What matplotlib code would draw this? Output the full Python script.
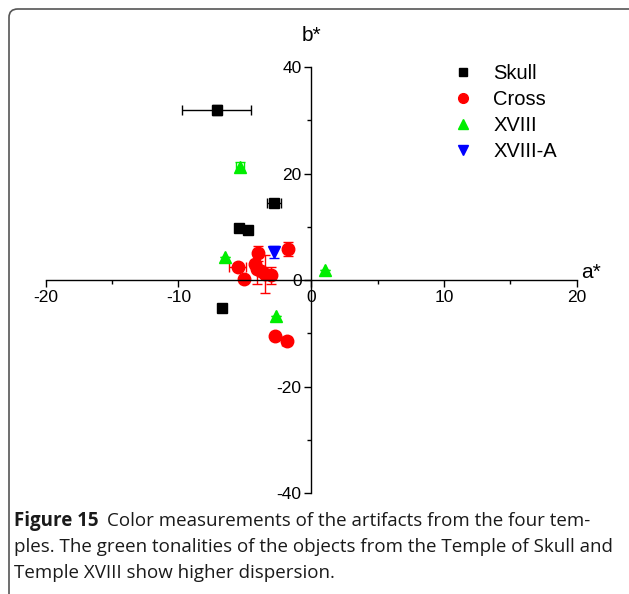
import matplotlib.pyplot as plt
from matplotlib.lines import Line2D
from matplotlib.patches import FancyBboxPatch
from matplotlib.ticker import MultipleLocator

# ============================================================
# DATA (a*, b* with error bars)
# ============================================================

skull_a = [-7.1, -2.8, -5.45, -4.8, -6.7]
skull_b = [31.9, 14.4, 9.7, 9.3, -5.2]
skull_xerr = [2.6, 0.55, 0.0, 0.0, 0.0]
skull_yerr = [0.9, 0.5, 0.0, 0.0, 0.0]

cross_a = [-5.55, -5.05, -4.0, -4.2, -4.1, -3.75, -3.5, -3.05, -1.75, -2.7, -1.85]
cross_b = [2.5, 0.1, 5.0, 3.1, 2.0, 1.6, 1.1, 0.9, 5.9, -10.5, -11.4]
cross_xerr = [0.65, 0.0, 0.3, 0.3, 0.0, 0.0, 0.0, 0.3, 0.0, 0.0, 0.35]
cross_yerr = [0.3, 0.0, 1.4, 0.0, 2.7, 0.0, 3.6, 1.6, 1.3, 0.0, 0.6]

xviii_a = [-5.4, -6.5, 1.0, -2.65]
xviii_b = [21.3, 4.4, 1.9, -6.75]
xviii_xerr = [0.3, 0.0, 0.0, 0.0]
xviii_yerr = [0.8, 0.0, 0.0, 0.0]

xviiia_a = [-2.8]
xviiia_b = [5.2]
xviiia_yerr = [1.1]

caption_bold = 'Figure 15'
caption_lines = [
    'Color measurements of the artifacts from the four tem-',
    'ples. The green tonalities of the objects from the Temple of Skull and',
    'Temple XVIII show higher dispersion.',
]

# ============================================================
# PLOT
# ============================================================

plt.rcParams['font.family'] = 'sans-serif'
plt.rcParams['font.sans-serif'] = ['Liberation Sans']

RED = '#FF0000'
GREEN = '#00EE00'
BLUE = '#0000FF'

fig = plt.figure(figsize=(6.29, 5.94), dpi=100)
ax = fig.add_axes([0.0727, 0.170, 0.8442, 0.7172])

eb = dict(linestyle='none', elinewidth=1.0, capsize=3.5, capthick=1.0)
ax.errorbar(skull_a, skull_b, xerr=skull_xerr, yerr=skull_yerr, marker='s',
            markersize=7, color='black', **eb)
ax.errorbar(cross_a, cross_b, xerr=cross_xerr, yerr=cross_yerr, marker='o',
            markersize=9, color=RED, **eb)
ax.errorbar(xviii_a, xviii_b, xerr=xviii_xerr, yerr=xviii_yerr, marker='^',
            markersize=9, color=GREEN, **eb)
ax.errorbar(xviiia_a, xviiia_b, yerr=xviiia_yerr, marker='v',
            markersize=9, color=BLUE, **eb)

ax.set_xlim(-20, 20)
ax.set_ylim(-40, 40)

for side in ['top', 'right']:
    ax.spines[side].set_visible(False)
ax.spines['left'].set_position(('data', 0))
ax.spines['bottom'].set_position(('data', 0))
ax.spines['left'].set_linewidth(1.0)
ax.spines['bottom'].set_linewidth(1.0)

ax.xaxis.set_major_locator(MultipleLocator(10))
ax.xaxis.set_minor_locator(MultipleLocator(5))
ax.yaxis.set_major_locator(MultipleLocator(20))
ax.yaxis.set_minor_locator(MultipleLocator(10))
ax.tick_params(which='major', direction='out', length=5, width=1,
               labelsize=12.5, pad=2)
ax.tick_params(which='minor', direction='out', length=3, width=1)
ax.xaxis.set_major_formatter(plt.FuncFormatter(lambda v, p: '%d' % v))
ax.yaxis.set_major_formatter(plt.FuncFormatter(lambda v, p: '%d' % v))

ax.text(0, 46, 'b*', fontsize=15, ha='center', va='center')
ax.text(21.1, 1.5, 'a*', fontsize=15, ha='center', va='center')

handles = [
    Line2D([], [], linestyle='none', marker='s', markersize=6, color='black'),
    Line2D([], [], linestyle='none', marker='o', markersize=7, color=RED),
    Line2D([], [], linestyle='none', marker='^', markersize=7, color=GREEN),
    Line2D([], [], linestyle='none', marker='v', markersize=7, color=BLUE),
]
ax.legend(handles, ['Skull', 'Cross', 'XVIII', 'XVIII-A'], loc='upper left',
          bbox_to_anchor=(0.752, 1.027), frameon=False, fontsize=14.5,
          handlelength=1.0, handletextpad=1.0,
          labelspacing=0.35, borderaxespad=0)

# rounded frame around the figure
frame = FancyBboxPatch((9 / 629, -0.05), 1.2, 1 - 9 / 594 + 0.05,
                       boxstyle='round,pad=0,rounding_size=0.014',
                       transform=fig.transFigure, fill=False,
                       edgecolor='#555555', linewidth=1.2, clip_on=False)
fig.patches.append(frame)

# caption
renderer = fig.canvas.get_renderer()
cap_font = ['Open Sans', 'DejaVu Sans']
cap_size = 13.5
t = fig.text(14 / 629, 1 - 521 / 594, caption_bold, fontsize=cap_size,
             fontweight='bold', family=cap_font, va='center', color='#1a1a1a')
bb = t.get_window_extent(renderer)
fig.text((bb.x1 + 8) / 629, 1 - 521 / 594, caption_lines[0], fontsize=cap_size,
         family=cap_font, va='center', color='#1a1a1a')
for i, line in enumerate(caption_lines[1:]):
    fig.text(14 / 629, 1 - (547 + 26 * i) / 594, line, fontsize=cap_size,
             family=cap_font, va='center', color='#1a1a1a')

fig.savefig('out.png', dpi=100)
